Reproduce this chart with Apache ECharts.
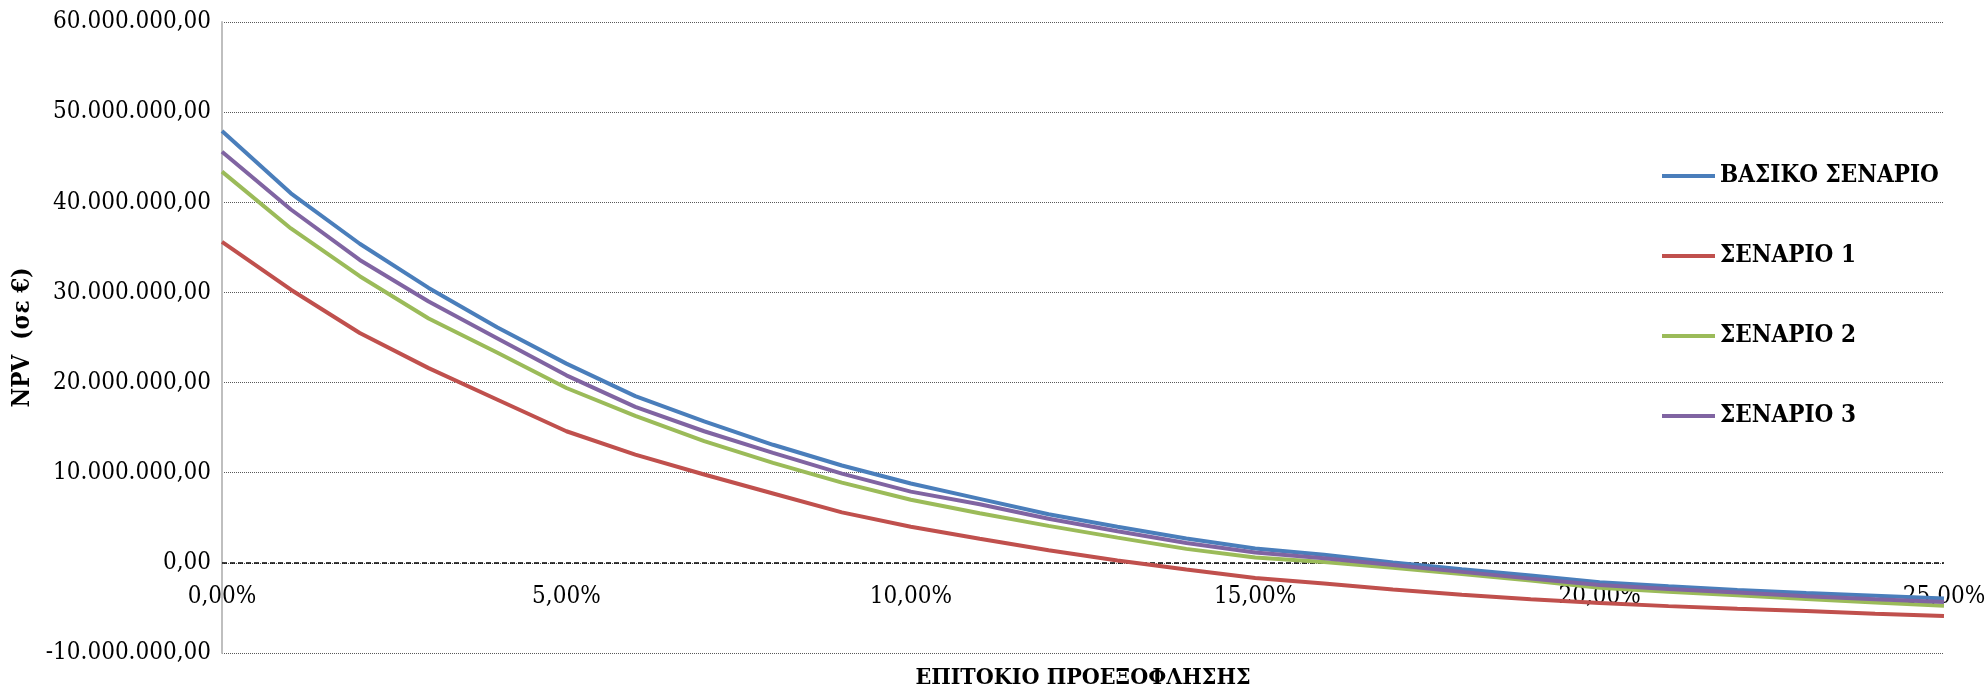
<!DOCTYPE html>
<html>
<head>
<meta charset="utf-8">
<script src="https://cdn.jsdelivr.net/npm/echarts@6/dist/echarts.min.js"></script>
<style>
  html, body { margin: 0; padding: 0; background: #fff; }
  #chart { width: 1986px; height: 685px; }
</style>
</head>
<body>
<div id="chart"></div>
<script>
// Discount rates 0%..25% (one point per percent)
const rates = [0, 1, 2, 3, 4, 5, 6, 7, 8, 9, 10, 11, 12, 13, 14, 15, 16, 17, 18, 19, 20, 21, 22, 23, 24, 25];

// NPV (in €) for each scenario at each discount rate
const baseScenario = [47900000, 41000000, 35400000, 30500000, 26100000, 22100000, 18500000, 15700000, 13100000, 10800000,
  8800000, 7100000, 5400000, 4000000, 2700000, 1600000, 900000, 50000, -700000, -1400000,
  -2150000, -2600000, -3000000, -3350000, -3650000, -3950000];
const scenario1 = [35600000, 30300000, 25500000, 21600000, 18100000, 14600000, 12000000, 9800000, 7700000, 5600000,
  4000000, 2670000, 1400000, 260000, -740000, -1670000, -2300000, -2950000, -3550000, -4050000,
  -4450000, -4800000, -5100000, -5350000, -5650000, -5900000];
const scenario2 = [43400000, 37100000, 31800000, 27100000, 23300000, 19400000, 16300000, 13500000, 11100000, 8900000,
  7000000, 5500000, 4100000, 2800000, 1550000, 600000, 100000, -550000, -1250000, -1950000,
  -2750000, -3200000, -3600000, -4000000, -4400000, -4750000];
const scenario3 = [45600000, 39200000, 33600000, 29000000, 24900000, 20800000, 17300000, 14600000, 12200000, 9900000,
  7900000, 6500000, 4900000, 3500000, 2200000, 1150000, 500000, -250000, -1000000, -1750000,
  -2450000, -2900000, -3300000, -3700000, -4050000, -4350000];

const seriesNames = ['ΒΑΣΙΚΟ ΣΕΝΑΡΙΟ', 'ΣΕΝΑΡΙΟ 1', 'ΣΕΝΑΡΙΟ 2', 'ΣΕΝΑΡΙΟ 3'];
const seriesData = [baseScenario, scenario1, scenario2, scenario3];
const seriesColors = ['#4A7EBB', '#C0504D', '#9BBB59', '#8064A2'];

const FONT = '"DejaVu Serif Condensed", "DejaVu Serif", serif';

// Greek number format: 60.000.000,00
function fmtNumber(v) {
  const neg = v < 0;
  const s = Math.abs(Math.round(v)).toString().replace(/\B(?=(\d{3})+(?!\d))/g, '.');
  return (neg ? '-' : '') + s + ',00';
}
function fmtPercent(v) {
  return Number(v).toFixed(2).replace('.', ',') + '%';
}

const chart = echarts.init(document.getElementById('chart'), null, { renderer: 'canvas' });

chart.setOption({
  animation: false,
  backgroundColor: '#ffffff',
  grid: { left: 222, right: 42, top: 22, bottom: 32, containLabel: false, outerBoundsMode: 'none' },
  legend: {
    orient: 'vertical',
    left: 1657,
    top: 157,
    icon: 'rect',
    itemWidth: 53,
    itemHeight: 4,
    itemGap: 52,
    data: seriesNames,
    textStyle: { fontFamily: FONT, fontWeight: 'bold', fontSize: 24, color: '#000', lineHeight: 28, padding: [0, 0, 0, 0] }
  },
  xAxis: {
    type: 'category',
    data: rates,
    boundaryGap: false,
    name: 'ΕΠΙΤΟΚΙΟ ΠΡΟΕΞΟΦΛΗΣΗΣ',
    nameLocation: 'middle',
    nameGap: 14,
    nameTextStyle: { fontFamily: FONT, fontWeight: 'bold', fontSize: 23, color: '#000' },
    axisLine: { show: false, onZero: false },
    axisTick: { show: false },
    axisLabel: {
      inside: true,
      interval: 4,
      margin: 44,
      fontFamily: FONT,
      fontSize: 24,
      color: '#000',
      formatter: fmtPercent
    },
    splitLine: { show: false }
  },
  yAxis: {
    type: 'value',
    min: -10000000,
    max: 60000000,
    interval: 10000000,
    name: 'NPV  (σε €)',
    nameLocation: 'middle',
    nameRotate: 90,
    nameGap: 182,
    nameTextStyle: { fontFamily: FONT, fontWeight: 'bold', fontSize: 24, color: '#000' },
    axisLine: { show: true, lineStyle: { color: '#BFBFBF', width: 2 } },
    axisTick: { show: false },
    axisLabel: { margin: 11, fontFamily: FONT, fontSize: 24, color: '#000', formatter: fmtNumber },
    splitLine: { show: true, lineStyle: { color: '#595959', width: 1, type: [1, 1] } }
  },
  series: seriesNames.map((name, i) => ({
    name: name,
    type: 'line',
    data: seriesData[i],
    showSymbol: false,
    symbol: 'none',
    smooth: false,
    lineStyle: { color: seriesColors[i], width: 4 },
    itemStyle: { color: seriesColors[i] },
    z: 3,
    // horizontal axis crossing at NPV = 0
    markLine: i === 0 ? {
      silent: true,
      symbol: 'none',
      label: { show: false },
      lineStyle: { color: '#000', width: 1.5, type: [5, 3] },
      data: [{ yAxis: 0 }],
      z: 2
    } : undefined
  }))
});
</script>
</body>
</html>
